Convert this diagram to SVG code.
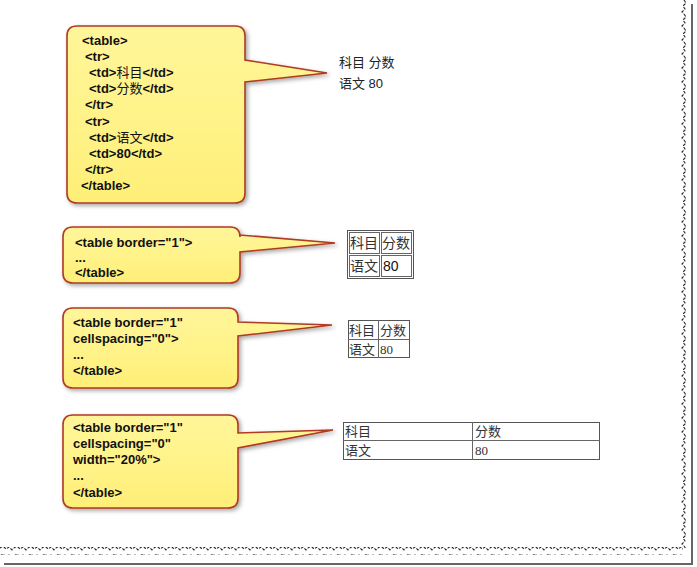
<svg xmlns="http://www.w3.org/2000/svg" width="697" height="567" viewBox="0 0 697 567">
<defs>
<linearGradient id="yel" x1="0" y1="0" x2="0" y2="1">
<stop offset="0" stop-color="#FFF69A"/>
<stop offset="1" stop-color="#FFEF78"/>
</linearGradient>
<filter id="sh" x="-10%" y="-10%" width="130%" height="130%">
<feDropShadow dx="2" dy="2" stdDeviation="2" flood-color="#000" flood-opacity="0.35"/>
</filter>
<pattern id="tornV" x="0" y="0" width="8" height="14" patternUnits="userSpaceOnUse">
<path d="M4,0 L6,3 L3,6 L5,9 L2,12 L4,14" fill="none" stroke="#222" stroke-width="1.1" stroke-dasharray="3,1.5"/>
</pattern>
<pattern id="tornH" x="0" y="0" width="14" height="8" patternUnits="userSpaceOnUse">
<path d="M0,4 L3,2 L6,5 L9,3 L12,6 L14,4" fill="none" stroke="#222" stroke-width="1.1" stroke-dasharray="3,1.5"/>
</pattern>
<style>
.co{fill:url(#yel);stroke:#B03A22;stroke-width:1.6;filter:url(#sh)}
.code{font-family:"Liberation Sans","Noto Sans CJK SC",sans-serif;font-size:13px;font-weight:bold;fill:#111}
.code tspan{font-weight:normal}
.out{font-family:"Liberation Sans","Noto Sans CJK SC",sans-serif;font-size:13px;fill:#222}
.cj{font-family:"Noto Sans CJK SC",sans-serif;font-size:13px;fill:#333}
.sf{font-family:"Liberation Serif",serif;font-size:13px;fill:#333}
.cell{fill:none;stroke:#666;stroke-width:1}
.outer{fill:none;stroke:#555;stroke-width:1}
</style>
</defs>
<rect width="697" height="567" fill="#fff"/>
<g id="paper-edge">
<rect x="679" y="0" width="8" height="548" fill="url(#tornV)"/>
<rect x="0" y="547" width="683" height="8" fill="url(#tornH)"/>
<line x1="692" y1="4" x2="692" y2="565" stroke="#666" stroke-width="2"/>
<line x1="4" y1="564" x2="692" y2="564" stroke="#666" stroke-width="2"/>
</g>
<g id="callout1">
<path class="co" d="M77,26 H235 Q245,26 245,36 V60 L327,73 L245,82 V193 Q245,203 235,203 H77 Q67,203 67,193 V36 Q67,26 77,26 Z"/>
<text class="code" x="82" y="45">&lt;table&gt;</text>
<text class="code" x="85" y="61">&lt;tr&gt;</text>
<text class="code" x="89" y="77">&lt;td&gt;<tspan>科目</tspan>&lt;/td&gt;</text>
<text class="code" x="89" y="93">&lt;td&gt;<tspan>分数</tspan>&lt;/td&gt;</text>
<text class="code" x="85" y="109">&lt;/tr&gt;</text>
<text class="code" x="85" y="126">&lt;tr&gt;</text>
<text class="code" x="89" y="142">&lt;td&gt;<tspan>语文</tspan>&lt;/td&gt;</text>
<text class="code" x="89" y="158">&lt;td&gt;80&lt;/td&gt;</text>
<text class="code" x="85" y="174">&lt;/tr&gt;</text>
<text class="code" x="81" y="190">&lt;/table&gt;</text>
</g>
<g id="callout2">
<path class="co" d="M73,227 H230 Q240,227 240,237 V235 L335,243 L240,252 V273 Q240,283 230,283 H73 Q63,283 63,273 V237 Q63,227 73,227 Z"/>
<text class="code" x="75" y="247">&lt;table border="1"&gt;</text>
<text class="code" x="75" y="262">...</text>
<text class="code" x="75" y="277">&lt;/table&gt;</text>
</g>
<g id="callout3">
<path class="co" d="M73,308 H228 Q238,308 238,318 V322 L332,325 L238,336 V378 Q238,388 228,388 H73 Q63,388 63,378 V318 Q63,308 73,308 Z"/>
<text class="code" x="73" y="327">&lt;table border="1"</text>
<text class="code" x="73" y="343">cellspacing="0"&gt;</text>
<text class="code" x="73" y="359">...</text>
<text class="code" x="73" y="375">&lt;/table&gt;</text>
</g>
<g id="callout4">
<path class="co" d="M73,415 H228 Q238,415 238,425 V433 L333,430 L238,448 V498 Q238,508 228,508 H73 Q63,508 63,498 V425 Q63,415 73,415 Z"/>
<text class="code" x="73" y="432">&lt;table border="1"</text>
<text class="code" x="73" y="448">cellspacing="0"</text>
<text class="code" x="73" y="464">width="20%"&gt;</text>
<text class="code" x="73" y="480">...</text>
<text class="code" x="73" y="497">&lt;/table&gt;</text>
</g>
<g id="result1">
<text class="out" x="339" y="67">科目 分数</text>
<text class="out" x="339" y="88">语文 80</text>
</g>
<g id="result2">
<rect class="outer" x="347.5" y="230.5" width="66" height="48"/>
<rect class="cell" x="349.5" y="232.5" width="30" height="21"/>
<rect class="cell" x="381.5" y="232.5" width="30" height="21"/>
<rect class="cell" x="349.5" y="255.5" width="30" height="21"/>
<rect class="cell" x="381.5" y="255.5" width="30" height="21"/>
<text class="cj" x="350" y="248" style="font-size:14px">科目</text>
<text class="cj" x="382" y="248" style="font-size:14px">分数</text>
<text class="cj" x="350" y="271" style="font-size:14px">语文</text>
<text class="out" x="383" y="271" style="font-size:14px;fill:#111">80</text>
</g>
<g id="result3">
<rect class="outer" x="348.5" y="320.5" width="61" height="37"/>
<line class="cell" x1="348" y1="339.5" x2="410" y2="339.5"/>
<line class="cell" x1="378.5" y1="320" x2="378.5" y2="358"/>
<text class="cj" x="349" y="335">科目</text>
<text class="cj" x="380" y="335">分数</text>
<text class="cj" x="349" y="354">语文</text>
<text class="sf" x="380" y="354">80</text>
</g>
<g id="result4">
<rect class="outer" x="343.5" y="422.5" width="256" height="37"/>
<line class="cell" x1="343" y1="440.5" x2="600" y2="440.5"/>
<line class="cell" x1="472.5" y1="422" x2="472.5" y2="460"/>
<text class="cj" x="345" y="436">科目</text>
<text class="cj" x="475" y="436">分数</text>
<text class="cj" x="345" y="455">语文</text>
<text class="sf" x="475" y="455">80</text>
</g>
</svg>
